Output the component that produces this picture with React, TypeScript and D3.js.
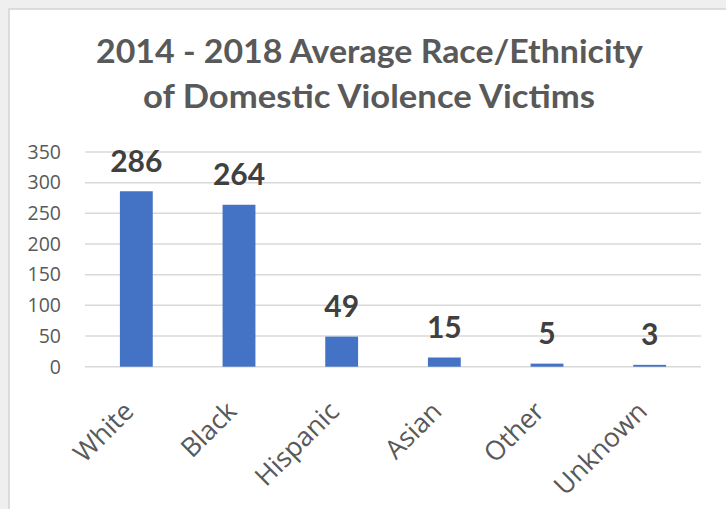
import React from "react";
import * as d3 from "d3";

const categories: string[] = ["White", "Black", "Hispanic", "Asian", "Other", "Unknown"];
const values: number[] = [286, 264, 49, 15, 5, 3];
const yTicks: number[] = [0, 50, 100, 150, 200, 250, 300, 350];
const titleLines: string[] = ["2014 - 2018 Average Race/Ethnicity", "of Domestic Violence Victims"];

const W = 726;
const H = 509;
const plot = { left: 85, right: 701, top: 152, bottom: 366.7 };

export default function App() {
  const x = d3
    .scaleBand<string>()
    .domain(categories)
    .range([plot.left, plot.right])
    .paddingInner(0.68)
    .paddingOuter(0.34);
  const y = d3.scaleLinear().domain([0, 350]).range([plot.bottom, plot.top]);
  const bw = x.bandwidth();
  const grey = "#595959";

  return (
    <svg
      width={W}
      height={H}
      style={{ position: "absolute", left: 0, top: 0, display: "block" }}
    >
      <rect x={0} y={0} width={W} height={H} fill="#efefef" />
      <rect x={9} y={9} width={W} height={H} fill="#ffffff" stroke="#d4d4d4" strokeWidth={1.5} />

      {/* title */}
      <text
        x={369.5}
        y={63}
        textAnchor="middle"
        fontFamily="Lato, 'Open Sans', sans-serif"
        fontWeight={700}
        fontSize={32}
        fill={grey}
        textLength={547}
        lengthAdjust="spacingAndGlyphs"
      >
        {titleLines[0]}
      </text>
      <text
        x={369}
        y={108}
        textAnchor="middle"
        fontFamily="Lato, 'Open Sans', sans-serif"
        fontWeight={700}
        fontSize={32}
        fill={grey}
        textLength={452}
        lengthAdjust="spacingAndGlyphs"
      >
        {titleLines[1]}
      </text>

      {/* gridlines + y ticks */}
      {yTicks.map((t) => (
        <g key={t}>
          <line
            x1={plot.left}
            x2={plot.right}
            y1={y(t)}
            y2={y(t)}
            stroke="#d9d9d9"
            strokeWidth={1.5}
          />
          <text
            x={61}
            y={y(t) + 6.8}
            textAnchor="end"
            fontFamily="'Open Sans', sans-serif"
            fontSize={19.5}
            fill={grey}
          >
            {t}
          </text>
        </g>
      ))}

      {/* bars */}
      {categories.map((c, i) => {
        const x0 = x(c) as number;
        return (
          <rect
            key={c}
            x={x0}
            y={y(values[i])}
            width={bw}
            height={plot.bottom - y(values[i])}
            fill="#4472C4"
          />
        );
      })}

      {/* data labels */}
      {categories.map((c, i) => {
        const cx = (x(c) as number) + bw / 2;
        return (
          <text
            key={c}
            x={cx}
            y={y(values[i]) - 19.5}
            textAnchor="middle"
            fontFamily="Lato, 'Open Sans', sans-serif"
            fontWeight={700}
            fontSize={30}
            fill="#404040"
          >
            {values[i]}
          </text>
        );
      })}

      {/* x labels */}
      {categories.map((c) => {
        const cx = (x(c) as number) + bw / 2;
        return (
          <text
            key={c}
            transform={`translate(${cx - 1},${413}) rotate(-45)`}
            textAnchor="end"
            fontFamily="'Open Sans', sans-serif"
            fontSize={26.5}
            fill={grey}
          >
            {c}
          </text>
        );
      })}
    </svg>
  );
}
